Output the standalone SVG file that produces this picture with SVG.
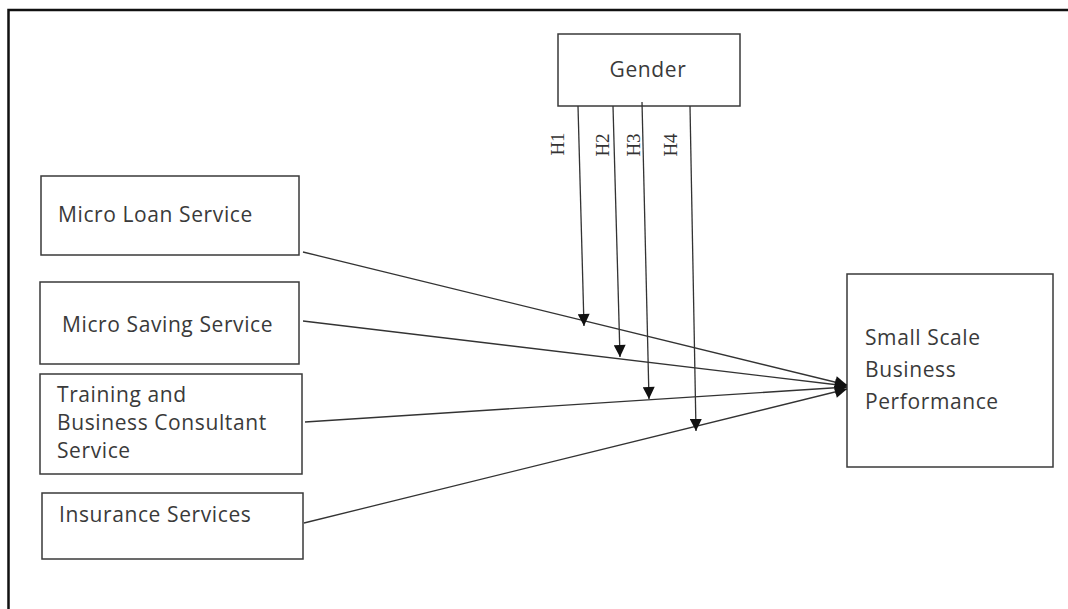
<svg xmlns="http://www.w3.org/2000/svg" width="1068" height="609" viewBox="0 0 1068 609">
<style>
.box{fill:#fff;stroke:#3a3a3a;stroke-width:1.5}
.t{font-family:"Open Sans","Liberation Sans",sans-serif;font-size:21px;letter-spacing:0.6px;fill:#3a3a3a}
.h{font-family:"Liberation Serif",serif;font-size:19px;fill:#333}
.c{stroke:#333;stroke-width:1.3;fill:none}
</style>
<defs>
<marker id="ah" viewBox="0 0 10 10" refX="10" refY="5" markerWidth="14" markerHeight="12" markerUnits="userSpaceOnUse" orient="auto">
<path d="M0,0 L10,5 L0,10 z" fill="#111"/>
</marker>
</defs>
<rect width="1068" height="609" fill="#fff"/>
<path d="M8.5,609 V10 H1068" fill="none" stroke="#111" stroke-width="2.5"/>
<g id="gender"><rect class="box" x="558" y="34" width="182" height="72"/><text class="t" x="648" y="77" text-anchor="middle">Gender</text></g>
<g id="loan"><rect class="box" x="41" y="176" width="258" height="79"/><text class="t" x="58" y="222">Micro Loan Service</text></g>
<g id="saving"><rect class="box" x="40" y="282" width="259" height="82"/><text class="t" x="62" y="332">Micro Saving Service</text></g>
<g id="training"><rect class="box" x="40" y="374" width="262" height="100"/><text class="t" x="57" y="402">Training and</text><text class="t" x="57" y="430">Business Consultant</text><text class="t" x="57" y="458">Service</text></g>
<g id="insurance"><rect class="box" x="42" y="493" width="261" height="66"/><text class="t" x="59" y="522">Insurance Services</text></g>
<g id="performance"><rect class="box" x="847" y="274" width="206" height="193"/><text class="t" x="865" y="345">Small Scale</text><text class="t" x="865" y="377">Business</text><text class="t" x="865" y="409">Performance</text></g>
<g id="connectors">
<line class="c" x1="303" y1="252" x2="847" y2="385" marker-end="url(#ah)"/>
<line class="c" x1="303" y1="321" x2="847" y2="386" marker-end="url(#ah)"/>
<line class="c" x1="305" y1="422" x2="847" y2="387" marker-end="url(#ah)"/>
<line class="c" x1="304" y1="523" x2="847" y2="389" marker-end="url(#ah)"/>
<line class="c" x1="578" y1="106" x2="584" y2="326" marker-end="url(#ah)"/>
<line class="c" x1="613" y1="106" x2="620" y2="357" marker-end="url(#ah)"/>
<line class="c" x1="642" y1="102" x2="649" y2="399" marker-end="url(#ah)"/>
<line class="c" x1="690" y1="106" x2="696" y2="431" marker-end="url(#ah)"/>
<text class="h" transform="translate(564,144) rotate(-90)" text-anchor="middle">H1</text>
<text class="h" transform="translate(609,145) rotate(-90)" text-anchor="middle">H2</text>
<text class="h" transform="translate(640,145) rotate(-90)" text-anchor="middle">H3</text>
<text class="h" transform="translate(677,145) rotate(-90)" text-anchor="middle">H4</text>
</g>
</svg>
